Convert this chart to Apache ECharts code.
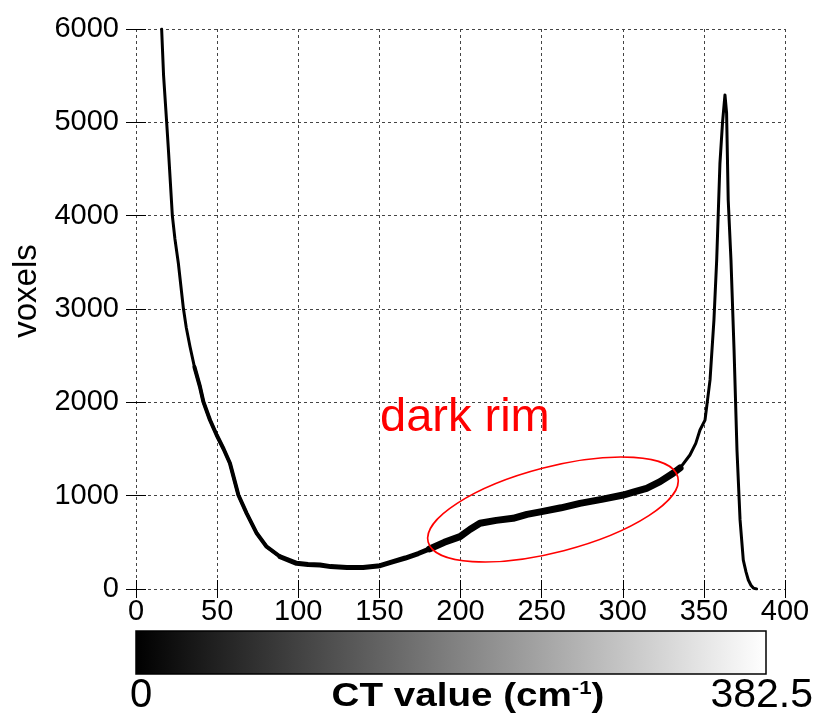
<!DOCTYPE html>
<html>
<head>
<meta charset="utf-8">
<script src="https://cdn.jsdelivr.net/npm/echarts@6/dist/echarts.min.js"></script>
<style>
  html, body { margin: 0; padding: 0; background: #fff; }
  #chart { width: 819px; height: 719px; }
</style>
</head>
<body>
<div id="chart"></div>
<script>
// Histogram of reconstructed CT values (cm^-1) vs. voxel count
const ctValue = [
  15.8, 17, 18.9, 20, 22.4, 24, 26.1, 29.2, 31, 33.3, 36, 39.4, 41.5, 45.6, 49.7,
  54, 57.9, 63.1, 68.2, 74.4, 80.5, 88.8, 99, 106, 113.4, 120, 130, 140, 150.4,
  158, 166, 174, 181, 190, 199.7, 206, 212, 222, 232.4, 241, 250, 262, 273.6,
  287, 300.3, 307, 314.7, 323, 331, 335.3, 341.4, 345, 347.6, 350.7, 353.8,
  356.2, 357.9, 359.9, 361.5, 363, 364, 365, 366.7, 368.6, 370.4, 372.3, 374.3,
  376, 377.4, 379, 380.5, 382.5
];
const voxelCount = [
  6000, 5500, 5000, 4700, 4000, 3750, 3490, 3007, 2800, 2596, 2380, 2168, 2007, 1811, 1650,
  1500, 1347, 1007, 811, 597, 453, 346, 275, 262, 257, 240, 230, 230, 250,
  290, 332, 380, 430, 500, 561, 640, 704, 735, 757, 800, 829, 870, 918,
  960, 1007, 1040, 1079, 1150, 1240, 1296, 1436, 1560, 1704, 1810, 2240,
  2880, 3525, 4561, 5000, 5293, 5100, 4168, 3525, 2560, 1490, 740, 310,
  180, 96, 40, 10, 0
];
// Stretches where bin-to-bin noise makes the trace look heavier: [from, to, stroke]
const noisyRanges = [[36, 90, 4], [88, 185, 5], [181, 340, 7]];
const colorbarRange = [0, 382.5];
const colorbarTitle = 'CT value (cm';
const yAxisTitle = 'voxels';
const annotationText = 'dark rim';

const allPoints = ctValue.map((x, i) => [x, voxelCount[i]]);
const pointsIn = (lo, hi) => allPoints.filter(p => p[0] >= lo && p[0] <= hi);

const chart = echarts.init(document.getElementById('chart'));
const FONT = 'Liberation Sans, Arial, sans-serif';
const gridDash = { color: '#444', type: [3, 3], width: 1 };
const tickStyle = { show: true, inside: true, lineStyle: { color: '#000' } };

const traceSeries = [{
  type: 'line', data: allPoints, showSymbol: false, clip: true,
  lineStyle: { color: '#000', width: 3, cap: 'round', join: 'round' }
}].concat(noisyRanges.map(r => ({
  type: 'line', data: pointsIn(r[0], r[1]), showSymbol: false, clip: true,
  lineStyle: { color: '#000', width: r[2], cap: 'round', join: 'round' }
})));

chart.setOption({
  animation: false,
  backgroundColor: '#fff',
  grid: { left: 136, right: 34, top: 29, bottom: 130 },
  xAxis: [{
    type: 'value', min: 0, max: 400, interval: 50,
    axisLine: { show: false },
    axisTick: Object.assign({ length: 9 }, tickStyle),
    axisLabel: { color: '#000', fontSize: 29, fontFamily: FONT, margin: 8 },
    splitLine: { show: true, lineStyle: gridDash }
  }, {
    type: 'value', min: 0, max: 400, interval: 50, position: 'top',
    axisLine: { show: false },
    axisTick: Object.assign({ length: 9 }, tickStyle),
    axisLabel: { show: false }, splitLine: { show: false }
  }],
  yAxis: [{
    type: 'value', min: 0, max: 6000, interval: 1000,
    axisLine: { show: false },
    axisTick: Object.assign({ length: 10 }, tickStyle),
    axisLabel: { color: '#000', fontSize: 29, fontFamily: FONT, margin: 17,
                 formatter: v => String(v) },
    splitLine: { show: true, lineStyle: gridDash }
  }, {
    type: 'value', min: 0, max: 6000, interval: 1000, position: 'right',
    axisLine: { show: false },
    axisTick: Object.assign({ length: 10 }, tickStyle),
    axisLabel: { show: false }, splitLine: { show: false }
  }],
  series: traceSeries
});

// Annotation ellipse around the dark-rim shoulder, centred in data space
const centre = chart.convertToPixel({ xAxisIndex: 0, yAxisIndex: 0 }, [257, 852]);

chart.setOption({
  graphic: [
    {
      type: 'text', x: 27, y: 291, rotation: Math.PI / 2,
      style: { text: yAxisTitle, fill: '#000', fontSize: 33, fontFamily: FONT,
               align: 'center', verticalAlign: 'middle' }
    },
    {
      type: 'ellipse', x: centre[0], y: centre[1], rotation: 14.6 * Math.PI / 180,
      shape: { cx: 0, cy: 0, rx: 129, ry: 42.6 },
      style: { fill: 'none', stroke: '#ff0000', lineWidth: 1.6 }, z: 10
    },
    {
      type: 'text', left: 380, top: 395, z: 10,
      style: { text: annotationText, fill: '#ff0000', fontSize: 47, fontFamily: FONT }
    },
    {
      type: 'rect', shape: { x: 136, y: 631, width: 630, height: 43 },
      style: {
        stroke: '#000', lineWidth: 1.5,
        fill: new echarts.graphic.LinearGradient(0, 0, 1, 0, [
          { offset: 0, color: '#000' }, { offset: 1, color: '#fff' }
        ])
      }
    },
    {
      type: 'text', x: 141, y: 696,
      style: { text: String(colorbarRange[0]), fill: '#000', fontSize: 40, fontFamily: FONT,
               align: 'center', verticalAlign: 'middle' }
    },
    {
      type: 'text', x: 813, y: 696,
      style: { text: String(colorbarRange[1]), fill: '#000', fontSize: 41, fontFamily: FONT,
               align: 'right', verticalAlign: 'middle' }
    },
    {
      type: 'text', x: 468, y: 697, scaleX: 1.17,
      style: {
        text: '{b|' + colorbarTitle + '}{s|-1}{b|)}',
        align: 'center', verticalAlign: 'middle',
        rich: {
          b: { fontSize: 33, fontWeight: 'bold', fontFamily: FONT, fill: '#000' },
          s: { fontSize: 19, fontWeight: 'bold', fontFamily: FONT, fill: '#000', verticalAlign: 'top', padding: [0, 0, 16, 0] }
        }
      }
    }
  ]
});
</script>
</body>
</html>
